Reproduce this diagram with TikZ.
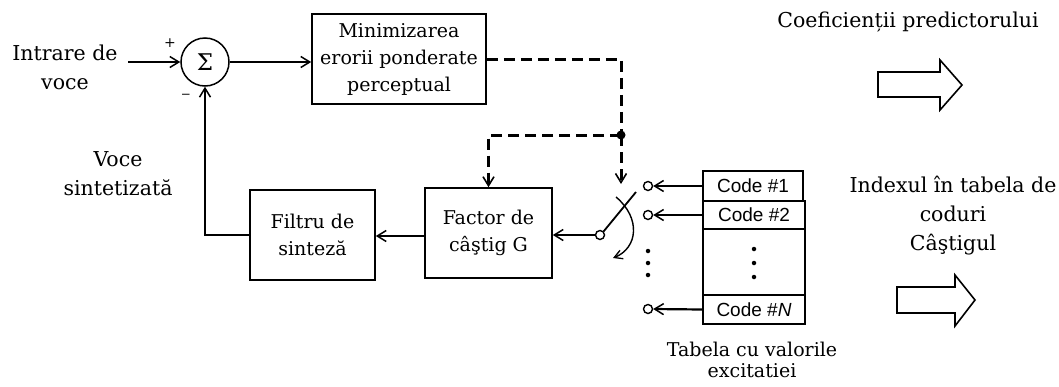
\documentclass[tikz,border=0pt]{standalone}
\usepackage{fontspec}
\setmainfont{DejaVu Serif}
\newfontfamily\codefont{Liberation Sans}
\usetikzlibrary{arrows.meta}
\begin{document}
\begin{tikzpicture}[x=1pt,y=-1pt,
  box/.style={draw,line width=1.6pt,align=center,inner sep=0pt,font=\fontsize{19}{27}\selectfont},
  lbl/.style={align=center,inner sep=0pt,font=\fontsize{20.5}{29}\selectfont},
  codebox/.style={draw,line width=1.5pt,inner sep=0pt,font=\codefont\fontsize{19}{22}\selectfont},
  arr/.style={line width=2.2pt,-{Straight Barb[length=9pt,width=11pt,line width=1.5pt]}},
  dsh/.style={line width=3pt,dash pattern=on 11pt off 6pt},
  dsharr/.style={dsh,-{Straight Barb[length=9pt,width=11pt,line width=1.6pt]}},
  contact/.style={circle,draw,line width=1.4pt,fill=white,inner sep=0pt,minimum size=9pt},
  smalldot/.style={circle,fill,inner sep=0pt,minimum size=4.5pt}]
\useasboundingbox (0,0) rectangle (1059,386);

% input and summing junction
\node[lbl] (inlbl) at (65,67) {Intrare de\\voce};
\coordinate (in) at (128,62);
\node[circle,draw,line width=1.5pt,minimum size=48pt,inner sep=0pt,font=\fontsize{23}{23}\selectfont] (sum) at (205,62) {Σ};
\node[font=\fontsize{14}{14}\selectfont,inner sep=0pt] (plus) at (170,43) {+};
\node[font=\fontsize{12}{12}\selectfont,inner sep=0pt] (minus) at (186,96) {−};

% blocks
\node[box,minimum width=174pt,minimum height=90pt] (min) at (399,59) {Minimizarea\\erorii ponderate\\perceptual};
\node[box,minimum width=127pt,minimum height=90pt] (fac) at (488.5,233) {Factor de\\câştig G};
\node[box,minimum width=125pt,minimum height=90pt] (fil) at (312.5,235) {Filtru de\\sinteză};

\node[lbl] (voce) at (118,174) {Voce\\sintetizată};

% connectors
\draw[arr] (in) -- (sum.west);
\draw[arr] (sum.east) -- (sum.east -| min.west);
\draw[arr] (fil.west) -| (sum.south);
\draw[arr] (fac.west |- 0,236) -- (fil.east |- 0,236);

% dashed control paths
\node[circle,fill,inner sep=0pt,minimum size=9pt] (dot) at (621,135) {};
\coordinate (swtop) at (621,184);
\draw[dsh] (min.east) -| (dot.center);
\draw[dsharr] (dot.center) -- (swtop);
\draw[dsharr] (dot.center) -| (fac.north);

% switch
\node[contact] (piv) at (600,235) {};
\coordinate (blade) at (636,192);
\draw[arr] (piv.west) -- (piv.west -| fac.east);
\draw[line width=1.8pt] (piv.north east) -- (blade);
\coordinate (sa) at (616,197);
\coordinate (sb) at (613,258);
\draw[line width=1.4pt,-{Straight Barb[length=8pt,width=9pt,line width=1.3pt]}] (sa) .. controls (641,218) and (638,248) .. (sb);

% contacts
\node[contact] (c1) at (648,186) {};
\node[contact] (c2) at (648,215) {};
\node[contact] (cN) at (648,309) {};
\node[smalldot] (d1) at (648,251) {};
\node[smalldot] (d2) at (648,263) {};
\node[smalldot] (d3) at (648,275) {};

% codebook
\node[codebox,minimum width=100pt,minimum height=30pt] (code1) at (753,186) {Code \#1};
\node[codebox,minimum width=102pt,minimum height=28pt] (code2) at (754,215) {Code \#2};
\node[codebox,minimum width=102pt,minimum height=66pt] (codem) at (754,262) {};
\node[codebox,minimum width=102pt,minimum height=29pt] (codeN) at (754,309.5) {Code \#\textit{N}};
\node[smalldot] (e1) at (754,249) {};
\node[smalldot] (e2) at (754,263) {};
\node[smalldot] (e3) at (754,277) {};
\draw[arr] (code1.west) -- (c1.east);
\draw[arr] (code2.west) -- (c2.east);
\draw[arr] (codeN.west) -- (cN.east);

\node[align=center,inner sep=0pt,font=\fontsize{19}{21}\selectfont] (tab) at (752,360) {Tabela cu valorile\\excitatiei};

% outputs
\node[lbl] (coef) at (908,22) {Coeficienții predictorului};
\draw[line width=1.6pt] (878,72) -- (940,72) -- (940,60) -- (962,85) -- (940,110) -- (940,97) -- (878,97) -- cycle;
\node[lbl] (idx) at (953,216) {Indexul în tabela de\\coduri\\Câştigul};
\draw[line width=1.6pt] (897,287) -- (955,287) -- (955,275) -- (975,300) -- (955,326) -- (955,313) -- (897,313) -- cycle;
\end{tikzpicture}
\end{document}
